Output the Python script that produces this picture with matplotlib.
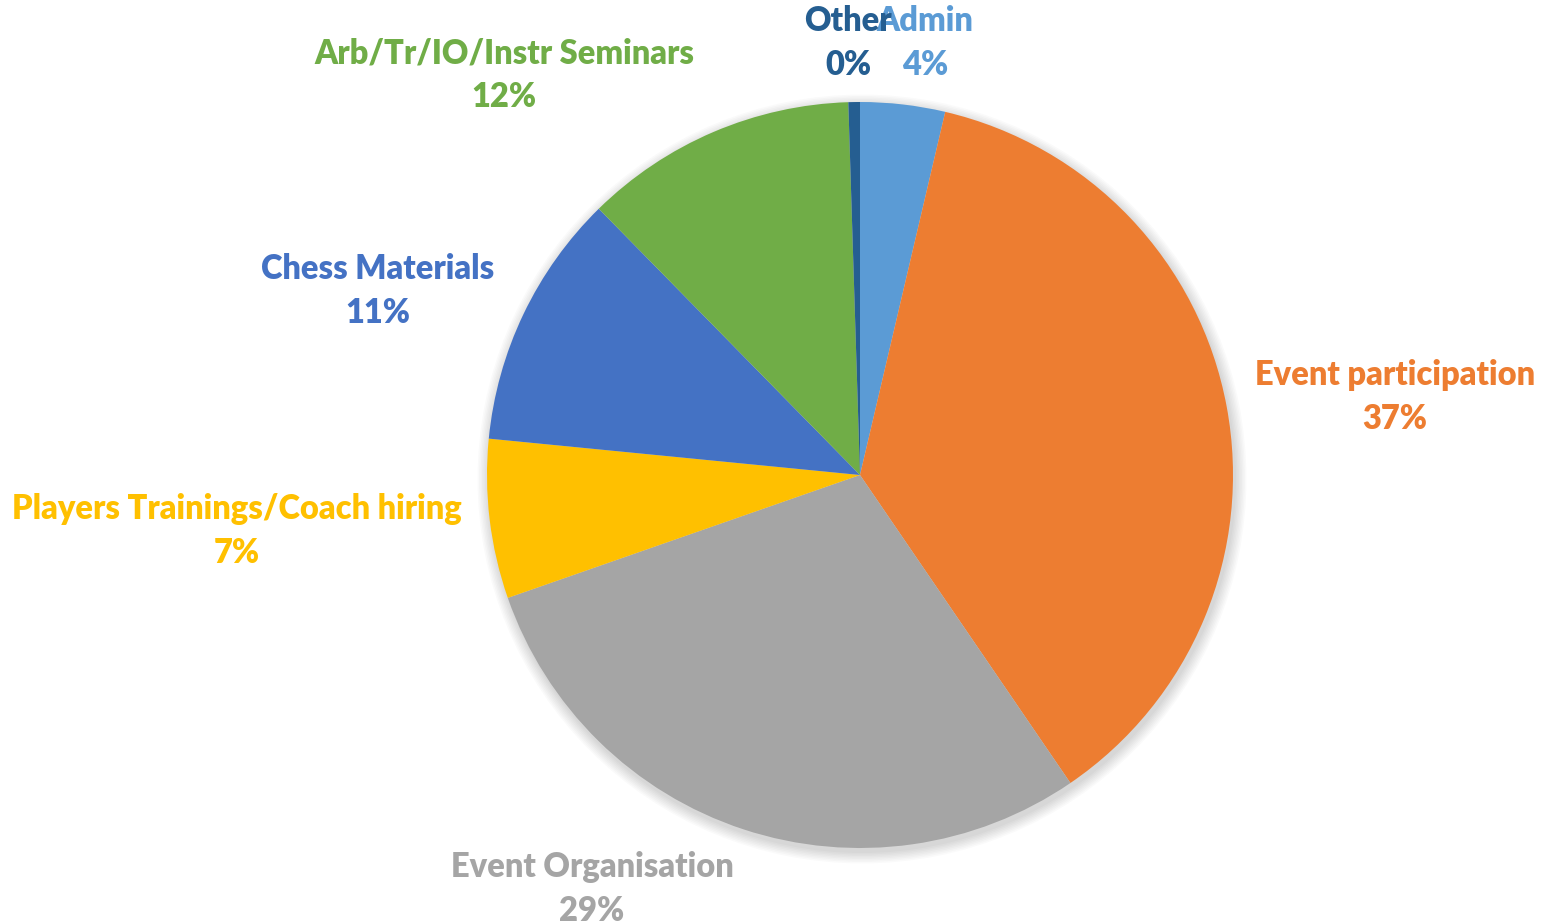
import matplotlib.pyplot as plt
from matplotlib.patches import Circle

# data
categories = ['Admin', 'Event participation', 'Event Organisation',
              'Players Trainings/Coach hiring', 'Chess Materials',
              'Arb/Tr/IO/Instr Seminars', 'Other']
shares = [3.67, 36.8, 29.2, 6.9, 11.1, 11.85, 0.5]
colors = ['#5B9BD5', '#ED7D31', '#A5A5A5', '#FFC000', '#4472C4', '#70AD47', '#255E91']

# label positions (pixel coords, origin top-left)
label_pos = [(925, 43), (1395, 397), (592, 889), (237, 531),
             (378, 291), (504, 75), (848, 43)]

W, H = 1541, 923
fig = plt.figure(figsize=(W / 100, H / 100), dpi=100)
ax = fig.add_axes([0, 0, 1, 1])
ax.set_xlim(0, W)
ax.set_ylim(0, H)
ax.set_aspect('equal')
ax.axis('off')

cx, cy, r = 860, H - 475, 373

# soft shadow
for k in range(8):
    ax.add_patch(Circle((cx + 2, cy - 4), r + 1 + k * 1.5, color='black',
                        alpha=0.018, lw=0, zorder=0))

ax.pie(shares, colors=colors, startangle=90, counterclock=False,
       center=(cx, cy), radius=r, frame=True,
       wedgeprops=dict(linewidth=0), normalize=True)
ax.set_xlim(0, W)
ax.set_ylim(0, H)
ax.axis('off')

total = sum(shares)
for name, val, col, (px, py) in zip(categories, shares, colors, label_pos):
    pct = '{:.0f}%'.format(val / total * 100)
    ax.text(px, H - py, name + '\n' + pct, color=col, ha='center', va='center',
            fontsize=23.5, fontweight='heavy', family=['Lato', 'DejaVu Sans'],
            linespacing=1.45, zorder=5)

fig.savefig('out.png', dpi=100)
